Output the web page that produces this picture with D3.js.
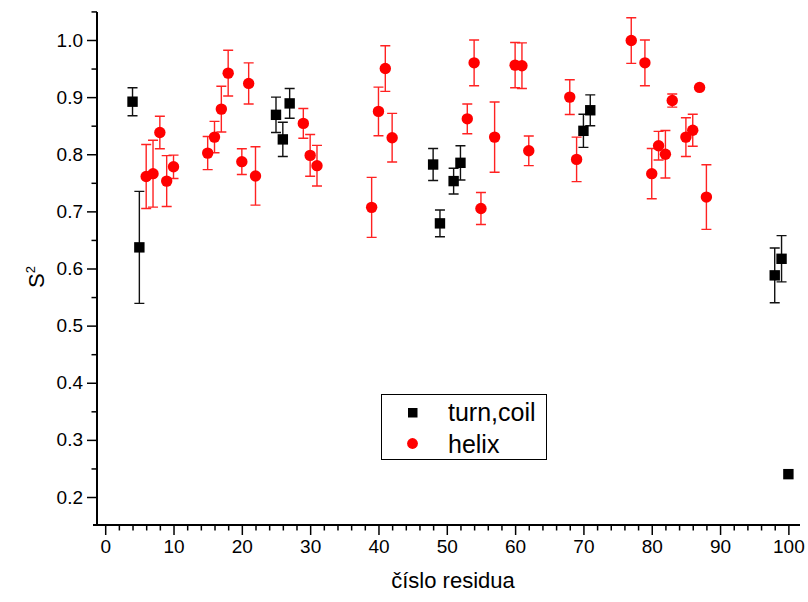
<!DOCTYPE html>
<html>
<head>
<meta charset="utf-8">
<script src="https://cdn.jsdelivr.net/npm/d3@7"></script>
<style>
  body { margin: 0; background: #fff; }
  svg { display: block; font-family: Arial, "Liberation Sans", sans-serif; }
</style>
</head>
<body>
<svg width="808" height="602"></svg>
<script>
// turn, coil residues
const coilX = [4, 5, 25, 26, 27, 48, 49, 51, 52, 70, 71, 98, 99, 100];
const coilY = [0.892, 0.637, 0.869, 0.826, 0.889, 0.782, 0.679, 0.753, 0.785, 0.841, 0.877, 0.588, 0.617, 0.240];
const coilErr = [0.0245, 0.098, 0.031, 0.030, 0.026, 0.028, 0.0235, 0.0225, 0.030, 0.029, 0.027, 0.048, 0.0405, 0];

// helix residues
const helixX = [6, 7, 8, 9, 10, 15, 16, 17, 18, 20, 21, 22, 29, 30, 31, 39, 40, 41, 42,
  53, 54, 55, 57, 60, 61, 62, 68, 69, 77, 79, 80, 81, 82, 83, 85, 86, 87, 88];
const helixY = [0.761, 0.766, 0.838, 0.753, 0.778, 0.802, 0.830, 0.879, 0.942, 0.787, 0.924, 0.762,
  0.854, 0.798, 0.780, 0.707, 0.875, 0.950, 0.829, 0.862, 0.960, 0.705, 0.830, 0.956, 0.955, 0.806,
  0.900, 0.791, 0.999, 0.960, 0.766, 0.815, 0.800, 0.894, 0.830, 0.842, 0.917, 0.725];
const helixErr = [0.056, 0.0585, 0.0285, 0.0445, 0.0205, 0.029, 0.0275, 0.040, 0.040, 0.0225, 0.036, 0.051,
  0.026, 0.0365, 0.0355, 0.0525, 0.0425, 0.040, 0.0425, 0.026, 0.040, 0.028, 0.0615, 0.0395, 0.040, 0.026,
  0.0305, 0.039, 0.040, 0.040, 0.044, 0.025, 0.0415, 0.0115, 0.034, 0.028, 0, 0.0565];

const xMajor = d3.range(0, 101, 10);
const xMinor = d3.range(0, 101, 2).filter(v => v % 10 !== 0);
const yMajor = [0.2, 0.3, 0.4, 0.5, 0.6, 0.7, 0.8, 0.9, 1.0];
const yMinor = [0.25, 0.35, 0.45, 0.55, 0.65, 0.75, 0.85, 0.95, 1.05];

const svg = d3.select("svg");
const plotL = 97, plotR = 800, plotT = 12, plotB = 525;

const x = d3.scaleLinear().domain([-1.2, 101.7]).range([plotL, plotR]);
const y = d3.scaleLinear().domain([0.151, 1.049]).range([plotB, plotT]);

// axes
const gx = svg.append("g").attr("transform", `translate(0,${plotB})`);
gx.call(d3.axisBottom(x).tickValues(xMajor).tickSize(10).tickPadding(5).tickFormat(d3.format("d")));
gx.append("g").call(d3.axisBottom(x).tickValues(xMinor).tickSize(5.5).tickFormat(""));
const gy = svg.append("g").attr("transform", `translate(${plotL},0)`);
gy.call(d3.axisLeft(y).tickValues(yMajor).tickSize(10).tickPadding(4).tickFormat(d3.format(".1f")));
gy.append("g").call(d3.axisLeft(y).tickValues(yMinor).tickSize(5.5).tickFormat(""));

gx.selectAll("g > g > .domain").remove();
gy.selectAll("g > g > .domain").remove();
svg.selectAll(".domain").attr("stroke", "#000").attr("stroke-width", 2);
gx.select(".domain").attr("d", `M${plotL - 4},0H${plotR}`);
gy.select(".domain").attr("d", `M0,${plotT}V${plotB}`);
svg.selectAll(".tick line").attr("stroke", "#000").attr("stroke-width", 1.5);
svg.selectAll(".tick text").attr("fill", "#000").style("font-size", "19px")
  .style("font-family", "Arial, 'Liberation Sans', sans-serif");

// axis titles
svg.append("text").attr("x", 453).attr("y", 588).attr("text-anchor", "middle")
  .style("font-size", "22px").text("číslo residua");
const yt = svg.append("text").attr("transform", "translate(44,277) rotate(-90)")
  .attr("text-anchor", "middle").style("font-size", "22px");
yt.append("tspan").text("S");
yt.append("tspan").attr("dy", -9).style("font-size", "13px").text("2");

// error bars
function errorBars(xs, ys, es, color) {
  const g = svg.append("g").attr("stroke", color).attr("stroke-width", 1.4).attr("fill", "none");
  xs.forEach((d, i) => {
    if (!es[i]) return;
    const cx = x(d), y1 = y(ys[i] + es[i]), y2 = y(ys[i] - es[i]);
    g.append("path").attr("d", `M${cx},${y1}V${y2}M${cx - 5},${y1}H${cx + 5}M${cx - 5},${y2}H${cx + 5}`);
  });
}
errorBars(coilX, coilY, coilErr, "#111");
errorBars(helixX, helixY, helixErr, "#f22");

// markers
svg.append("g").selectAll("rect").data(coilX).join("rect")
  .attr("x", d => x(d) - 5.2).attr("y", (d, i) => y(coilY[i]) - 5.2)
  .attr("width", 10.4).attr("height", 10.4).attr("fill", "#000");
svg.append("g").selectAll("circle").data(helixX).join("circle")
  .attr("cx", d => x(d)).attr("cy", (d, i) => y(helixY[i])).attr("r", 5.7).attr("fill", "#f00");

// legend
const lg = svg.append("g");
lg.append("rect").attr("x", 381.5).attr("y", 394.5).attr("width", 165).attr("height", 65)
  .attr("fill", "#fff").attr("stroke", "#000").attr("stroke-width", 1);
lg.append("rect").attr("x", 408).attr("y", 408).attr("width", 9.5).attr("height", 9.5).attr("fill", "#000");
lg.append("circle").attr("cx", 412.5).attr("cy", 443.5).attr("r", 5.4).attr("fill", "#f00");
lg.append("text").attr("x", 448).attr("y", 420.5).style("font-size", "25px").text("turn,coil");
lg.append("text").attr("x", 448).attr("y", 452.5).style("font-size", "25px").text("helix");
</script>
</body>
</html>
